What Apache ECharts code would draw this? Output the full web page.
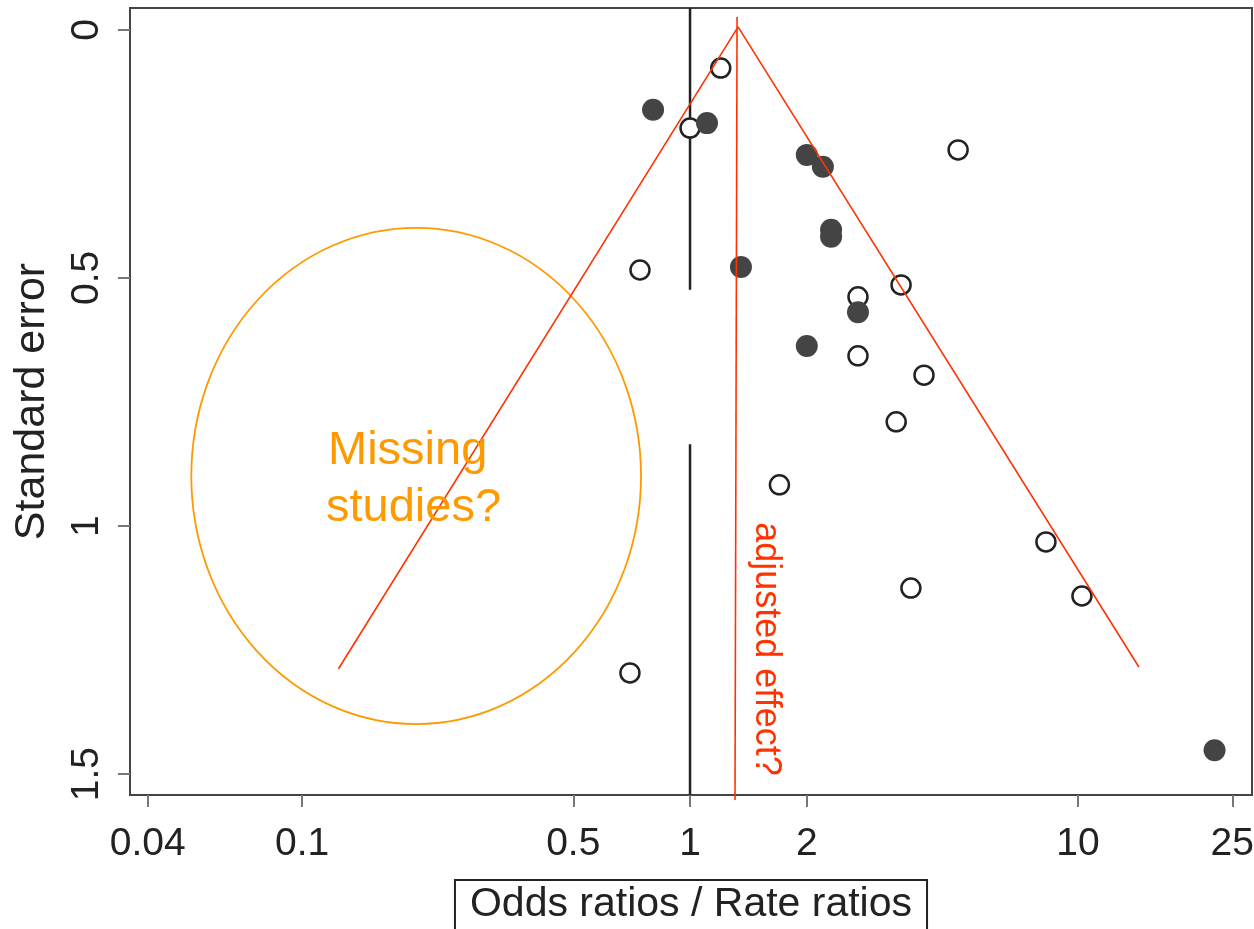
<!DOCTYPE html>
<html>
<head>
<meta charset="utf-8">
<script src="https://cdn.jsdelivr.net/npm/echarts@6/dist/echarts.min.js"></script>
<style>
  html, body { margin: 0; padding: 0; background: #fff; }
  #funnel { width: 1254px; height: 929px; }
</style>
</head>
<body>
<div id="funnel"></div>
<script>
// studies: [odds ratio, standard error]
var openStudies = [
  [1.20, 0.077], [1.0, 0.198], [4.91, 0.242], [0.743, 0.484], [3.50, 0.514],
  [2.71, 0.538], [2.71, 0.657], [4.01, 0.696], [3.40, 0.790], [1.70, 0.917],
  [8.27, 1.032], [3.71, 1.125], [10.24, 1.141], [0.70, 1.296]
];
var filledStudies = [
  [0.803, 0.161], [1.106, 0.188], [2.00, 0.252], [2.20, 0.276], [2.31, 0.403],
  [2.31, 0.417], [1.353, 0.478], [2.71, 0.569], [2.00, 0.637], [22.5, 1.452]
];
// funnel drawn by hand: left end, apex, right end
var funnelLines = [[0.124, 1.288], [1.33, -0.006], [14.36, 1.284]];
// "adjusted effect" line
var adjustedLine = [[1.322, -0.026], [1.306, 1.552]];
// null line at OR = 1 (broken where the annotation sits)
var nullLineTop = [[1, -0.044], [1, 0.524]];
var nullLineBottom = [[1, 0.835], [1, 1.542]];
// ellipse: centre x, centre y, left x, right x, top y, bottom y
var missingEllipse = [[0.197, 0.899, 0.0518, 0.7476, 0.399, 1.399]];

var xTicks = [0.04, 0.1, 0.5, 1, 2, 10, 25];
var yTicks = [0, 0.5, 1, 1.5];

var FONT = "'Liberation Sans', Arial, Helvetica, sans-serif";

var chart = echarts.init(document.getElementById('funnel'));
var option = {
  animation: false,
  backgroundColor: '#fff',
  grid: {
    left: 130, right: 2, top: 8, bottom: 134,
    outerBoundsMode: 'none',
    show: true, borderColor: '#444', borderWidth: 2, backgroundColor: 'transparent'
  },
  xAxis: {
    type: 'log',
    logBase: 10,
    min: 0.036,
    max: 28.1,
    name: 'Odds ratios / Rate ratios',
    nameLocation: 'middle',
    nameGap: 85,
    nameTextStyle: {
      fontFamily: FONT, fontSize: 41, color: '#222',
      borderColor: '#222', borderWidth: 2, padding: [4, 15, 8, 15],
      verticalAlign: 'top'
    },
    axisLine: { show: false, onZero: false },
    axisTick: { show: true, length: 12, customValues: xTicks, lineStyle: { color: '#777', width: 2 } },
    axisLabel: {
      customValues: xTicks, margin: 30,
      fontFamily: FONT, fontSize: 39, color: '#222',
      formatter: function (v) { return String(v); }
    },
    splitLine: { show: false }
  },
  yAxis: {
    type: 'value',
    inverse: true,
    min: -0.044,
    max: 1.542,
    name: 'Standard error',
    nameLocation: 'middle',
    nameGap: 76,
    nameTextStyle: { fontFamily: FONT, fontSize: 43, color: '#222' },
    axisLine: { show: false, onZero: false },
    axisTick: { show: true, length: 12, customValues: yTicks, lineStyle: { color: '#777', width: 2 } },
    axisLabel: {
      customValues: yTicks, rotate: 90, margin: 23,
      fontFamily: FONT, fontSize: 39, color: '#222',
      formatter: function (v) { return String(v); }
    },
    splitLine: { show: false }
  },
  series: [
    {
      type: 'line', data: nullLineTop, symbol: 'none', z: 1,
      lineStyle: { color: '#222', width: 2.5 }
    },
    {
      type: 'line', data: nullLineBottom, symbol: 'none', z: 1,
      lineStyle: { color: '#222', width: 2.5 }
    },
    {
      type: 'scatter', data: openStudies, symbol: 'circle', symbolSize: 19, z: 3,
      itemStyle: { color: '#fff', borderColor: '#222', borderWidth: 2.5, opacity: 1 }
    },
    {
      type: 'scatter', data: filledStudies, symbol: 'circle', symbolSize: 22, z: 3,
      itemStyle: { color: '#444', opacity: 1 }
    },
    {
      type: 'custom', data: missingEllipse, z: 4, clip: false,
      renderItem: function (params, api) {
        var l = api.coord([api.value(2), api.value(1)]);
        var r = api.coord([api.value(3), api.value(1)]);
        var t = api.coord([api.value(0), api.value(4)]);
        var b = api.coord([api.value(0), api.value(5)]);
        var cx = (l[0] + r[0]) / 2, cy = (t[1] + b[1]) / 2;
        var rx = (r[0] - l[0]) / 2, ry = (b[1] - t[1]) / 2;
        var d = 'M' + (cx - rx) + ' ' + cy +
          ' A' + rx + ' ' + ry + ' 0 1 0 ' + (cx + rx) + ' ' + cy +
          ' A' + rx + ' ' + ry + ' 0 1 0 ' + (cx - rx) + ' ' + cy + ' Z';
        return {
          type: 'path',
          shape: { pathData: d },
          style: { fill: 'none', stroke: '#ff9900', lineWidth: 1.8 }
        };
      }
    },
    {
      type: 'line', data: funnelLines, symbol: 'none', z: 5, clip: false,
      lineStyle: { color: '#ff3300', width: 1.6 }
    },
    {
      type: 'line', data: adjustedLine, symbol: 'none', z: 5, clip: false,
      lineStyle: { color: '#ff3300', width: 1.6 }
    }
  ],
  graphic: [
    {
      type: 'text', x: 328, y: 451, z: 10,
      style: { text: 'Missing', fontFamily: FONT, fontSize: 47, fill: '#ff9900',
        textAlign: 'left', textVerticalAlign: 'middle', align: 'left', verticalAlign: 'middle' }
    },
    {
      type: 'text', x: 326, y: 508, z: 10,
      style: { text: 'studies?', fontFamily: FONT, fontSize: 47, fill: '#ff9900',
        textAlign: 'left', textVerticalAlign: 'middle', align: 'left', verticalAlign: 'middle' }
    },
    {
      type: 'text', x: 766, y: 649, rotation: -Math.PI / 2, z: 10,
      style: { text: 'adjusted effect?', fontFamily: FONT, fontSize: 36, fill: '#ff3300',
        textAlign: 'center', textVerticalAlign: 'middle', align: 'center', verticalAlign: 'middle' }
    }
  ]
};
chart.setOption(option);
</script>
</body>
</html>
